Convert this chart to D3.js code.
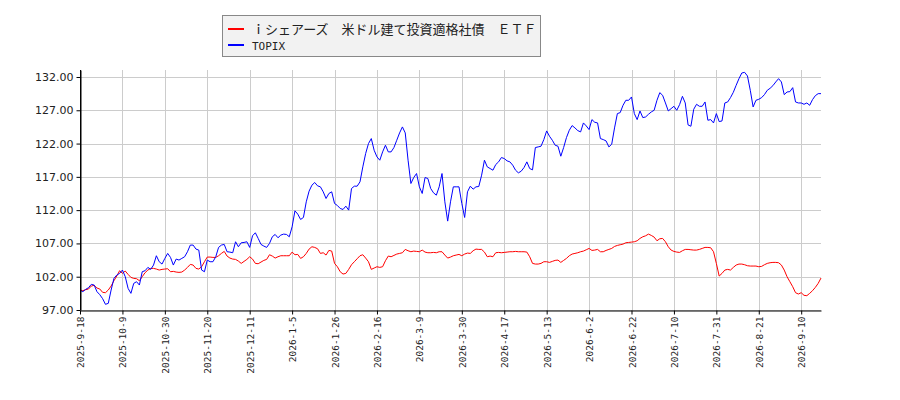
<!DOCTYPE html>
<html>
<head>
<meta charset="utf-8">
<script src="https://cdn.jsdelivr.net/npm/d3@7"></script>
<style>
  body { margin: 0; background: #fff; }
</style>
</head>
<body>
<div id="chart"></div>
<script>
"use strict"

// tick labels, one every 15 trading days
let tickLabels = ["2025-9-18", "2025-10-9", "2025-10-30", "2025-11-20", "2025-12-11",
    "2026-1-5", "2026-1-26", "2026-2-16", "2026-3-9", "2026-3-30", "2026-4-17",
    "2026-5-13", "2026-6-2", "2026-6-22", "2026-7-10", "2026-7-31", "2026-8-21", "2026-9-10"];
let tickStep = 15;

let seriesNames = ["\uFF49シェアーズ\u3000米ドル建て投資適格社債\u3000ＥＴＦ", "TOPIX"];
let seriesColors = ["#ff0000", "#0000ff"];

let yTicks = [97, 102, 107, 112, 117, 122, 127, 132];

let etfValues = [
    100, 99.9, 100.05, 100.15, 100.6, 100.7, 100.3, 100.15, 99.65, 99.6,
    100, 100.6, 101.4, 102.1, 102.9, 102.5, 102.85, 102.35, 101.9, 101.75,
    101.7, 101.4, 102, 102.6, 103, 103.25, 103.25, 103.15, 103, 103.1,
    103.15, 103.2, 102.75, 102.8, 102.7, 102.65, 102.7, 103, 103.4, 103.85,
    103.75, 103.25, 103.15, 103.5, 104.25, 104.95, 104.95, 104.9, 104.9, 105.15,
    105.5, 105.8, 105.1, 104.8, 104.65, 104.6, 104.35, 104, 104.3, 104.6,
    105, 104.65, 104, 103.95, 104.2, 104.45, 104.6, 105.3, 105.1, 104.8,
    105, 105.15, 105.15, 105.15, 105.15,
    105.7, 105.3, 105.35, 104.75, 105, 105.5, 106.15, 106.5, 106.4, 106.2,
    105.5, 105.6, 105.25, 105.95, 105.85, 104, 103.5, 102.75, 102.4, 102.5,
    103.1, 103.8, 104.25, 104.7, 105.15, 105.3, 104.8, 104.25, 103.1, 103.3,
    103.5, 103.4, 103.5, 104.4, 105.1, 105, 105.2, 105.4, 105.5, 105.6,
    106.1, 105.9, 105.75, 105.85, 105.8, 105.75, 106, 105.7, 105.6, 105.6,
    105.65, 105.6, 105.75, 105.75, 105.25, 104.8, 104.95, 105.15, 105.25, 105.35,
    105.15, 105.4, 105.55, 105.5, 105.9, 106.15, 106.1, 106.1, 105.7, 105,
    105.1, 105, 105.6, 105.65, 105.6, 105.65, 105.7, 105.75, 105.75, 105.8,
    105.75, 105.75, 105.75, 105.7, 105, 104, 103.9, 103.9, 104, 104.25,
    104.25, 104.15, 104.3, 104.45, 104.5,
    104.15, 104.45, 104.75, 105.15, 105.4, 105.5, 105.6, 105.75, 105.85, 106.05,
    106.25, 105.95, 106, 106.1, 105.75, 105.75, 105.95, 106.1, 106.25, 106.55,
    106.7, 106.8, 106.9, 107.1, 107.15, 107.2, 107.25, 107.4, 107.75, 108,
    108.15, 108.4, 108.2, 107.95, 107.4, 107.7, 107.75, 107.25, 106.5, 106,
    105.8, 105.7, 105.65, 105.9, 106.1, 106.1, 106.05, 106, 106, 106.1,
    106.25, 106.4, 106.4, 106.35, 105.75, 104, 102.1, 102.5, 103, 103.1,
    103, 103.4, 103.75, 103.9, 103.9, 103.8, 103.65, 103.6, 103.6, 103.6,
    103.5, 103.55, 103.8, 104, 104.1, 104.15, 104.15, 104.1, 103.75, 103,
    102, 101.25, 100.5, 99.6, 99.4, 99.6, 99.2, 99.15, 99.5, 99.9,
    100.4, 101.0, 101.8
];

let topixValues = [
    100, 99.75, 100.1, 100.35, 100.85, 100.75, 99.75, 99.3, 98.7, 97.85,
    98, 100, 101.75, 102.25, 102.5, 103, 102, 100.25, 99.5, 101,
    101.25, 100.75, 102.75, 102.9, 103.4, 103.1, 103.75, 105.15, 104.25, 103.9,
    104.75, 105.5, 104.9, 103.75, 104.65, 104.5, 104.75, 105, 105.75, 106.75,
    106.75, 106.15, 106, 103, 102.75, 104.5, 104.25, 104.25, 105, 106.4,
    106.75, 106.85, 105.75, 105.7, 105.6, 107.25, 106.5, 107.1, 107.15, 107.25,
    106.4, 108.15, 108.6, 107.75, 106.85, 106.6, 106.4, 107, 108, 108.35,
    107.85, 108.25, 108.4, 108.35, 108,
    109.5, 111.9, 111.4, 110.6, 110.9, 113.25, 114.85, 115.75, 116.15, 115.65,
    115.5, 114.75, 113.75, 114.5, 114.75, 113, 112.7, 112.25, 112.1, 112.6,
    112, 115.25, 115.6, 115.6, 116.25, 118.5, 120.5, 122, 122.75, 121,
    120, 119.5, 120.75, 121.75, 120.75, 120.75, 121.4, 122.5, 123.6, 124.5,
    123.6, 119.5, 116, 116.9, 117.5, 115.5, 114.5, 116.9, 116.75, 115.25,
    114.6, 114.25, 115.5, 117.5, 113.25, 110.35, 113.25, 115.5, 115.5, 115.5,
    113, 110.9, 114.75, 115.6, 115.15, 115.5, 115.55, 117.25, 119.5, 118.5,
    118.25, 118, 118.85, 119.25, 119.9, 119.75, 119.4, 119.25, 118.75, 118,
    117.6, 117.85, 118.4, 119.25, 118.25, 118.05, 121.4, 121.5, 121.6, 122.6,
    123.9, 123.1, 122.5, 121.75, 121.6,
    120.1, 121.4, 122.9, 124, 124.7, 124.35, 123.95, 123.75, 125.1, 124.65,
    124.1, 125.6, 125.2, 125.1, 122.75, 122.6, 122.4, 121.5, 121.9, 124.35,
    126.5, 126.65, 127.75, 128.5, 128.5, 129, 126.5, 125.6, 126.9, 125.9,
    126, 126.4, 126.75, 127, 128.5, 129.65, 129.25, 128.1, 126.9, 127.25,
    127.6, 127, 127.85, 129.1, 128.1, 124.8, 124.6, 127.15, 127.9, 127.6,
    127.6, 128.25, 125.5, 125.6, 125.1, 126.5, 125.3, 125.4, 128.1, 128.25,
    128.9, 129.7, 130.75, 131.75, 132.6, 132.7, 132.15, 130, 127.5, 128.5,
    128.65, 128.9, 129.35, 130, 130.3, 130.7, 131.25, 131.75, 131.25, 129.35,
    129.75, 129.8, 130.4, 128.25, 128.1, 128.1, 127.9, 128.1, 127.75, 128.6,
    129.2, 129.5, 129.5
];

let width = 900, height = 400;
let plotLeft = 80, plotRight = 821, plotTop = 70, plotBottom = 310;

let drawing = d3.select("#chart")
    .append("svg")
    .attr("width", width)
    .attr("height", height);

drawing.append("rect")
    .attr("width", width)
    .attr("height", height)
    .attr("fill", "#ffffff");

let x = d3.scaleLinear()
    .domain([0, etfValues.length - 1])
    .range([plotLeft, plotRight]);

let y = d3.scaleLinear()
    .domain([97, 133.05])
    .range([plotBottom, plotTop]);

let xTickValues = tickLabels.map((d, i) => i * tickStep);

// grid
let grid = drawing.append("g").attr("stroke", "#cccccc").attr("stroke-width", 1);
grid.selectAll(".hgrid")
    .data(yTicks)
    .enter().append("line")
    .attr("x1", plotLeft)
    .attr("x2", plotRight)
    .attr("y1", d => Math.round(y(d)) + 0.5)
    .attr("y2", d => Math.round(y(d)) + 0.5);
grid.selectAll(".vgrid")
    .data(xTickValues)
    .enter().append("line")
    .attr("x1", d => Math.round(x(d)) + 0.5)
    .attr("x2", d => Math.round(x(d)) + 0.5)
    .attr("y1", plotTop)
    .attr("y2", plotBottom);

// lines
let line = d3.line()
    .x((d, i) => x(i))
    .y(d => y(d));

[etfValues, topixValues].forEach((values, k) => {
    drawing.append("path")
        .datum(values)
        .attr("d", line)
        .attr("fill", "none")
        .attr("stroke", seriesColors[k])
        .attr("stroke-width", 1);
});

// y axis
let yAxis = drawing.append("g")
    .attr("transform", "translate(" + (plotLeft + 0.5) + ",0)")
    .call(d3.axisLeft(y).tickValues(yTicks).tickFormat(d3.format(".2f")).tickSize(4).tickSizeOuter(0));
yAxis.select(".domain").attr("stroke", "#000");
yAxis.selectAll("text")
    .attr("font-family", "DejaVu Sans")
    .attr("font-size", 11)
    .attr("fill", "#222");

// x axis, labels rotated to read bottom-up
let xAxis = drawing.append("g")
    .attr("transform", "translate(0," + (plotBottom + 0.5) + ")")
    .call(d3.axisBottom(x).tickValues(xTickValues).tickFormat((d, i) => tickLabels[i]).tickSize(4).tickSizeOuter(0));
xAxis.select(".domain").attr("stroke", "#000");
xAxis.selectAll("text")
    .attr("font-family", "DejaVu Sans Mono")
    .attr("font-size", 9.5)
    .attr("fill", "#222")
    .attr("transform", "rotate(-90)")
    .attr("text-anchor", "end")
    .attr("y", 0)
    .attr("x", -6)
    .attr("dx", 0)
    .attr("dy", 3.5);

// y axis line spans the full plot height
drawing.append("line")
    .attr("x1", plotLeft + 0.5).attr("x2", plotLeft + 0.5)
    .attr("y1", plotTop).attr("y2", plotBottom)
    .attr("stroke", "#000");

// legend
let legend = drawing.append("g");
legend.append("rect")
    .attr("x", 222.5)
    .attr("y", 15.5)
    .attr("width", 318)
    .attr("height", 41)
    .attr("fill", "#f2f2f2")
    .attr("stroke", "#888888");

seriesNames.forEach((name, k) => {
    let rowY = 29 + k * 16;
    legend.append("line")
        .attr("x1", 228).attr("x2", 244)
        .attr("y1", rowY).attr("y2", rowY)
        .attr("stroke", seriesColors[k])
        .attr("stroke-width", 2);
    legend.append("text")
        .attr("x", 252)
        .attr("y", rowY + 4.5)
        .attr("font-family", k == 0 ? "Noto Sans CJK JP" : "DejaVu Sans Mono")
        .attr("font-size", k == 0 ? 13 : 11)
        .attr("fill", "#222")
        .text(name);
});
</script>
</body>
</html>
